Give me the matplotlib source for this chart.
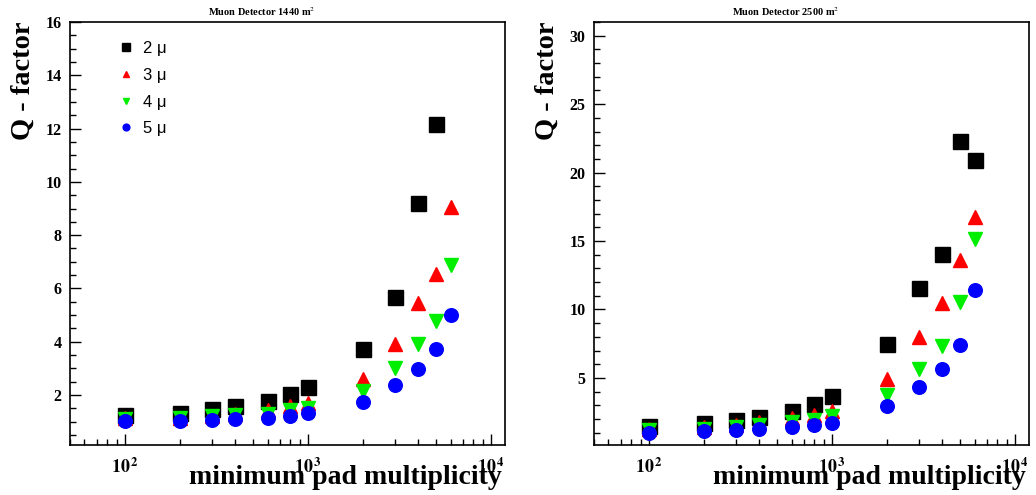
import matplotlib
matplotlib.use('Agg')
import matplotlib.pyplot as plt
from matplotlib.ticker import FixedLocator, MultipleLocator, NullFormatter
import numpy as np

matplotlib.rcParams['mathtext.fontset'] = 'stix'

## pad multiplicity cuts
mult = [100, 200, 300, 400, 600, 800, 1000, 2000, 3000, 4000, 5000, 6000]

## Muon detector 1440 m^2
q2_1440 = [1.25, 1.34, 1.46, 1.59, 1.79, 2.04, 2.31, 3.72, 5.69, 9.22, 12.19]
q3_1440 = [1.12, 1.15, 1.2, 1.3, 1.42, 1.58, 1.72, 2.62, 3.9, 5.44, 6.54, 9.06]
q4_1440 = [1.1, 1.13, 1.2, 1.25, 1.3, 1.42, 1.52, 2.15, 3.0, 3.91, 4.78, 6.88]
q5_1440 = [1.02, 1.04, 1.06, 1.09, 1.15, 1.21, 1.31, 1.75, 2.38, 2.98, 3.72, 4.99]

## Muon detector 2500 m^2
q2_2500 = [1.5, 1.72, 1.9, 2.15, 2.58, 3.12, 3.68, 7.51, 11.54, 14.02, 22.29, 20.9]
q3_2500 = [1.25, 1.4, 1.55, 1.75, 2.05, 2.3, 2.6, 4.95, 8.0, 10.49, 13.59, 16.76]
q4_2500 = [1.2, 1.3, 1.42, 1.55, 1.75, 1.95, 2.2, 3.73, 5.68, 7.32, 10.56, 15.17]
q5_2500 = [1.01, 1.09, 1.16, 1.26, 1.38, 1.55, 1.72, 2.93, 4.34, 5.66, 7.44, 11.41]

labels = ['2 \u03bc', '3 \u03bc', '4 \u03bc', '5 \u03bc']
markers = ['s', '^', 'v', 'o']
sizes = [10.8, 10, 10, 9.8]
colors = ['#000000', '#ff0000', '#00ee00', '#0000ff']
xtick_labels = [r'$\mathbf{10}^{\,\mathbf{%d}}$' % e for e in (2, 3, 4)]

serif = 'Liberation Serif'
W, H = 1036, 495
fig = plt.figure(figsize=(W/100, H/100), dpi=100)

panels = [
    (70, 262, 'Muon Detector 1440 m$^{2}$',
     [q2_1440, q3_1440, q4_1440, q5_1440], (0.125, 16), 2, 0.5),
    (594, 786, 'Muon Detector 2500 m$^{2}$',
     [q2_2500, q3_2500, q4_2500, q5_2500], (0.1, 31), 5, 1),
]

for i, (x0, tx, title, series, ylim, major, minor) in enumerate(panels):
    ax = fig.add_axes([x0/W, 50/H, 435/W, 423/H])
    for q, m, s, c, lab in zip(series, markers, sizes, colors, labels):
        ax.plot(mult[:len(q)], q, ls='none', marker=m, ms=s, color=c,
                mec=c, label=lab)
    ax.set_xscale('log')
    ax.set_xlim(50, 11900)
    ax.set_ylim(*ylim)

    ax.xaxis.set_major_locator(FixedLocator([1e2, 1e3, 1e4]))
    ax.set_xticklabels(xtick_labels)
    minors = [k*10**e for e in range(1, 5) for k in range(2, 10)]
    ax.xaxis.set_minor_locator(FixedLocator(minors))
    ax.xaxis.set_minor_formatter(NullFormatter())
    ax.yaxis.set_major_locator(MultipleLocator(major))
    ax.yaxis.set_minor_locator(MultipleLocator(minor))

    ax.tick_params(which='both', direction='in', top=False, right=False,
                   width=1)
    ax.tick_params(which='major', length=8)
    ax.tick_params(which='minor', length=4)
    ax.tick_params(axis='x', pad=9, labelsize=13)
    ax.tick_params(axis='y', pad=6, labelsize=11.5)
    for lab in ax.get_yticklabels():
        lab.set_fontfamily(serif)
        lab.set_fontweight('bold')
    for sp in ax.spines.values():
        sp.set_linewidth(1.2)

    fig.text(tx/W, 1 - 12/H, title, ha='center', va='center', fontsize=7.5,
             family=serif, weight='bold')
    fig.text((x0 - 47)/W, 1 - 22/H, 'Q - factor', rotation=90, ha='center',
             va='top', fontsize=20.5, family=serif, weight='bold')
    fig.text((x0 + 432)/W, 1 - 478/H, 'minimum pad multiplicity',
             ha='right', va='center', fontsize=20, family=serif,
             weight='bold')

    if i == 0:
        ax.legend(loc='upper left', bbox_to_anchor=(0.075, 0.99),
                  frameon=False, markerscale=0.5, handlelength=1.0,
                  handletextpad=0.5, labelspacing=0.7,
                  prop={'family': 'Liberation Sans', 'size': 12})

fig.savefig('out.png', dpi=100)
